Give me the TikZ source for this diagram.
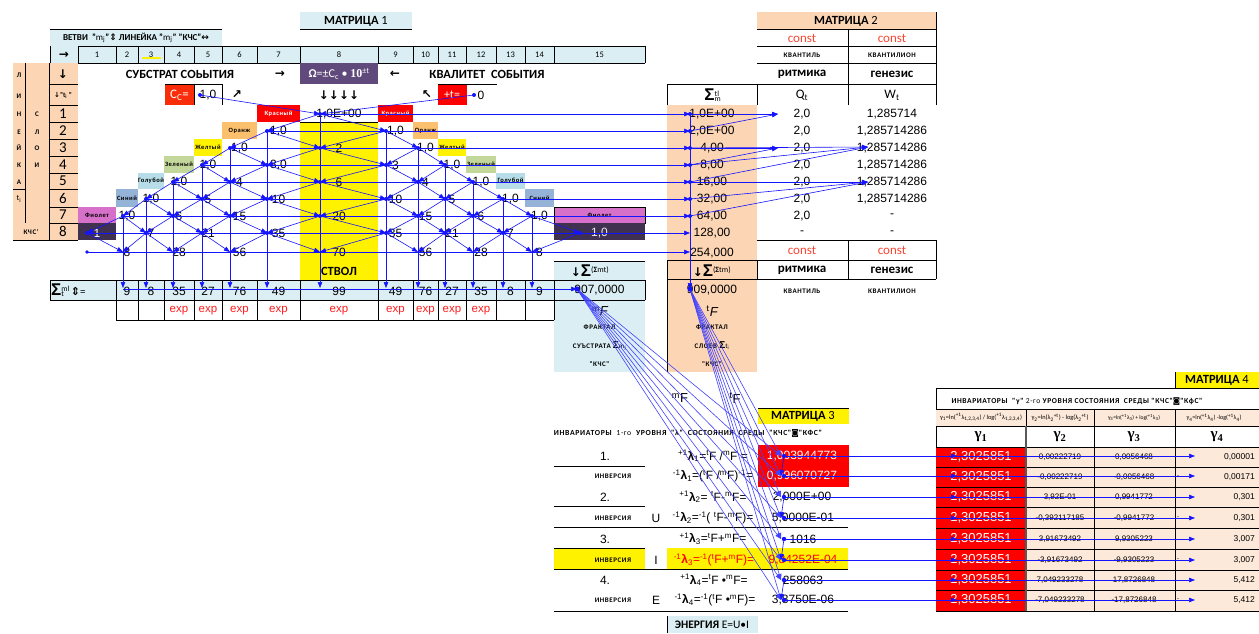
\documentclass[tikz,border=0pt]{standalone}
\usepackage{fontspec}
\usepackage{graphicx}
\setmainfont{Carlito}
\newfontfamily\fArial{Liberation Sans}
\newfontfamily\fTimes{Liberation Serif}
\newfontfamily\fDJ{DejaVu Sans}
\newfontfamily\fLab[LetterSpace=8]{Carlito}
\usetikzlibrary{arrows.meta}
\newcommand\fsz[1]{\fontsize{#1}{#1}\selectfont}
\newcommand\sps[1]{\textsuperscript{#1}}
\newcommand\sbs[1]{\textsubscript{#1}}
\newcommand\lam{\textbf{λ}}
\definecolor{lblue}{RGB}{218,238,243}
\definecolor{peach}{RGB}{252,213,180}
\definecolor{lpeach}{RGB}{253,233,217}
\definecolor{ccred}{RGB}{250,45,10}
\definecolor{omega}{RGB}{96,74,123}
\definecolor{dpurp}{RGB}{64,49,81}
\definecolor{fiol}{RGB}{214,112,200}
\definecolor{sinc}{RGB}{149,179,215}
\definecolor{golc}{RGB}{183,222,232}
\definecolor{zelc}{RGB}{196,215,155}
\definecolor{ornc}{RGB}{250,192,110}
\definecolor{cred}{RGB}{250,70,50}
\definecolor{expred}{RGB}{255,30,30}
\definecolor{trace}{RGB}{20,20,255}
\tikzset{
 conn/.style={draw=trace, line width=0.6pt, -{Triangle[length=6pt,width=4.5pt]}},
 gl/.style={draw=black, line width=0.7pt},
 num/.style={inner sep=0pt, font=\fArial\fsz{12}},
 numS/.style={inner sep=0pt, font=\fArial\fsz{8}},
 tb/.style={inner sep=0pt, font=\fsz{12.5}\bfseries},
 sm/.style={inner sep=0pt, font=\fLab\fsz{7}\bfseries},
 clab/.style={inner sep=0pt, font=\fLab\fsz{6.5}\bfseries},
 arr/.style={inner sep=0pt, font=\fDJ\fsz{12}\bfseries},
 colh/.style={inner sep=0pt, font=\fsz{8.5}},
 reg/.style={inner sep=0pt, font=\fsz{13}},
 dot/.style={fill=trace},
}
\def\colc{{64,97,127,151,179,208,239.5,278.5,339,395.5,425.5,452,481,510.5,539.5,599.5}}
\def\dotx{{0,87,123,146,173,202,230,267,320,386,418,445,473,503,532,580}}
\def\rowy{{0,114,131,148,165,182,199,216,233,252}}
\begin{document}
\begin{tikzpicture}[x=1pt,y=-1pt]
\useasboundingbox (0,0) rectangle (1259,634);
\fill[white] (0,0) rectangle (1259,634);
% ================= MATRIX 1 header
\fill[lblue] (300,12) rectangle (412,29);
\draw[gl] (300,29) -- (412,29);
\node[tb] (m1t) at (356,21) {МАТРИЦА {\mdseries 1}};
\fill[lblue] (50,29) rectangle (222,46);
\draw[gl] (50,29) -- (222,29);
\node[inner sep=0pt] (vetvi) at (136,38) {\resizebox{146pt}{!}{\fsz{8}\bfseries ВЕТВИ \ "{\mdseries m\sbs{j}}"{\fDJ ⇕} ЛИНЕЙКА "{\mdseries m\sbs{j}}" "КЧС"{\fDJ ↔}}};
\fill[lblue] (50,46) rectangle (645,63);
\draw[gl] (78,46) -- (645,46);
\draw[gl] (50,63) -- (645,63);
\foreach \xx in {50,78,116,138,164,194,222,257,300,378,413,438,466,496,525,554,645} \draw[gl] (\xx,46) -- (\xx,63);
\fill[yellow] (142,57.5) rectangle (161,59.5);
\foreach \cc/\xx in {1/97,2/127,3/151,4/179,5/208,6/239.5,7/278.5,8/339,9/395.5,10/425.5,11/452,12/481,13/510.5,14/539.5,15/599.5} \node[colh] (h\cc) at (\xx,55) {\cc};
\node[arr] (harr) at (64,55) {→};
% ================= left block
\fill[peach] (13,63) rectangle (78,240);
\draw[gl] (25,63) -- (25,223);
\draw[gl] (49,63) -- (49,240);
\draw[gl] (13,189) -- (25,189);
\draw[gl] (13,240) -- (78,240);
\foreach \yy in {84,105,122,139,156,173,189,207,223} \draw[gl] (49,\yy) -- (78,\yy);
\foreach \yy/\tx [count=\i] in {75/Л,96/И,114/Н,132/Е,148/Й,165/К,182/А} \node[sm] (lin\i) at (19,\yy) {\tx};
\node[inner sep=0pt,font=\fsz{8}] (lin8) at (19,199) {t\sbs{i}};
\foreach \yy/\tx [count=\i] in {114/С,132/Л,148/О,165/И} \node[sm] (sl\i) at (37,\yy) {\tx};
\node[sm] (kchs) at (31,232) {КЧС'};
\node[arr] (darr) at (63,74) {↓};
\node[inner sep=0pt,font=\fsz{7}\bfseries] (dti) at (63,95) {{\fDJ ↓}"t\sbs{i} "};
\foreach \i/\yy in {1/113.5,2/130.5,3/147.5,4/164.5,5/181,6/198,7/215,8/231.5} \node[inner sep=0pt,font=\fsz{15}] (ln\i) at (63,\yy) {\i};
% ================= top text rows
\node[tb] (subst) at (180,74) {СУБСТРАТ СОЬЫТИЯ};
\node[arr] (ra) at (280,74) {→};
\fill[omega] (300,63) rectangle (378,84);
\node[inner sep=0pt,text=white,font=\fsz{12}] (omg) at (339,74) {{\bfseries Ω}=±C\sbs{c} • {\fTimes\bfseries 10}\sps{±t}};
\node[arr] (la) at (395,74) {←};
\node[tb] (kval) at (487,74) {КВАЛИТЕТ \ СОБЫТИЯ};
\fill[ccred] (165,84) rectangle (194,105);
\node[inner sep=0pt,text=white,font=\fsz{13}] (cc) at (179.5,95) {C\sbs{C}=};
\draw[gl] (165,84) -- (222,84) -- (222,105);
\draw[gl] (194,84) -- (194,105);
\node[num] (ccv) at (208,95) {1,0};
\node[arr] (ne) at (237,95) {↗};
\node[arr] (dddd) at (339,95) {↓↓↓↓};
\node[arr] (nw) at (427,95) {↖};
\fill[red] (438,84) rectangle (467,105);
\draw[gl] (438,84) -- (497,84);
\node[inner sep=0pt,text=white,font=\fsz{12}] (tt) at (452,95) {+t=};
\node[num] (tv) at (481,95) {0};
% ================= colour labels
\fill[red] (257,105) rectangle (300,122); \node[clab,text=white] (kr1) at (278.5,113.5) {Красный};
\fill[red] (378,105) rectangle (413,122); \node[clab,text=white] (kr2) at (395.5,113.5) {Красный};
\fill[ornc] (222,122) rectangle (257,139); \node[clab] (or1) at (239.5,130.5) {Оранж};
\fill[ornc] (413,122) rectangle (438,139); \node[clab] (or2) at (425.5,130.5) {Оранж};
\fill[yellow] (194,139) rectangle (222,156); \node[clab] (ye1) at (208,147.5) {Желтый};
\fill[yellow] (438,139) rectangle (466,156); \node[clab] (ye2) at (452,147.5) {Желтый};
\fill[zelc] (164,156) rectangle (194,173); \node[clab] (ze1) at (179,164.5) {Зеленый};
\fill[zelc] (466,156) rectangle (496,173); \node[clab] (ze2) at (481,164.5) {Зеленый};
\fill[golc] (138,173) rectangle (164,189); \node[clab] (go1) at (151,181) {Голубой};
\fill[golc] (496,173) rectangle (525,189); \node[clab] (go2) at (510.5,181) {Голубой};
\fill[sinc] (116,189) rectangle (138,207); \node[clab] (si1) at (127,198) {Синий};
\fill[sinc] (525,189) rectangle (554,207); \node[clab] (si2) at (539.5,198) {Синий};
\fill[fiol] (78,207) rectangle (116,223); \node[clab] (fi1) at (97,215) {Фиолет};
\fill[fiol] (554,207) rectangle (645,223); \node[clab] (fi2) at (599.5,215) {Фиолет};
\draw[gl] (554,207) rectangle (645,223);
\fill[dpurp] (78,223) rectangle (116,240);
\fill[dpurp] (554,223) rectangle (645,240);
\fill[yellow] (300,122) rectangle (378,280);
\draw[gl] (300,122) -- (378,122);
\node[tb] (stvol) at (339,271) {СТВОЛ};
% ================= Pascal numbers
\foreach \rr/\cc/\vv in {1/8/{1,0E+00},2/7/{1,0},2/9/{1,0},3/6/{1,0},3/8/2,3/10/{1,0},4/5/{1,0},4/7/{3,0},4/9/3,4/11/{1,0},5/4/{1,0},5/6/4,5/8/6,5/10/4,5/12/{1,0},6/3/{1,0},6/5/5,6/7/10,6/9/10,6/11/5,6/13/{1,0},7/2/{1,0},7/4/6,7/6/15,7/8/20,7/10/15,7/12/6,7/14/{1,0},8/3/7,8/5/21,8/7/35,8/9/35,8/11/21,8/13/7,9/2/8,9/4/28,9/6/56,9/8/70,9/10/56,9/12/28,9/14/8}{
 \pgfmathsetmacro\xc{\colc[\cc]}
 \pgfmathsetmacro\xd{\dotx[\cc]}
 \pgfmathsetmacro\yr{\rowy[\rr]}
 \node[num] (t-\rr-\cc) at (\xc,\yr) {\vv};
 \coordinate (p-\rr-\cc) at (\xd,\yr);
}
\node[num,text=white] (t-8-1) at (97,233) {1};
\coordinate (p-8-1) at (87,233);
\node[num,text=white!85!gray] (t-8-15) at (599.5,233) {1,0};
\coordinate (p-8-15) at (580,233);
% ================= sum row
\fill[lblue] (50,280) rectangle (554,300);
\fill[lblue] (554,261) rectangle (645,372);
\draw[gl] (50,280) -- (645,280);
\draw[gl] (50,300) -- (645,300);
\draw[gl] (50,280) -- (50,300);
\draw[gl] (645,280) -- (645,300);
\foreach \xx in {116,138,164,194,222,257,300,378,413,438,466,496,525,554} \draw[gl] (\xx,280) -- (\xx,320);
\draw[gl] (116,320) -- (554,320);
\draw[gl] (554,261) -- (645,261);
\node[inner sep=0pt,anchor=west,font=\fsz{11}] (sigml) at (51,290) {{\fArial\bfseries\fsz{17}Σ}\rlap{\sbs{t}}\sps{ml}\kern1pt{\fDJ\bfseries ⇕}=};
\foreach \cc/\vv in {2/9,3/8,4/35,5/27,6/76,7/49,8/99,9/49,10/76,11/27,12/35,13/8,14/9}{
 \pgfmathsetmacro\xc{\colc[\cc]}
 \node[num] (sum\cc) at (\xc,291) {\vv};
}
\foreach \cc in {4,...,12}{
 \pgfmathsetmacro\xc{\colc[\cc]}
 \node[inner sep=0pt,text=expred,font=\fArial\fsz{11.5}] (exp\cc) at (\xc,311) {exp};
}
\node[num] (mFv) at (599.5,290) {907,0000};
\node[inner sep=0pt,font=\fsz{12}] (sigmt) at (590,271) {{\fDJ\bfseries ↓}{\fArial\bfseries\fsz{17}Σ}\sps{({\bfseries Σ}mt)}};
\node[inner sep=0pt,font=\fsz{13}] (mFl) at (600,311) {\sps{m}{\fArial\itshape F}};
\node[sm] (fr1) at (599.5,327) {ФРАКТАЛ};
\node[sm] (fr2) at (599.5,346) {СУЪСТРАТА {\fArial\fsz{10}Σ}{\mdseries m\sbs{j}}};
\node[sm] (fr3) at (599.5,364) {"КЧС"};
% ================= MATRIX 2 and sigma column
\fill[peach] (757,12) rectangle (936,29);
\node[tb] (m2t) at (846,21) {МАТРИЦА {\mdseries 2}};
\draw[gl] (757,29) -- (936,29);
\draw[gl] (757,46) -- (936,46);
\draw[gl] (757,63) -- (936,63);
\draw[gl] (667,84) -- (936,84);
\draw[gl] (848,29) -- (848,105);
\draw[gl] (936,12) -- (936,105);
\draw[gl] (757,84) -- (757,105);
\draw[gl] (667,84) -- (667,105);
\node[inner sep=0pt,text=cred,font=\fsz{13}] (c1) at (802,38) {const};
\node[inner sep=0pt,text=cred,font=\fsz{13}] (c2) at (892,38) {const};
\node[sm] (kv1) at (802,55) {КВАНТИЛЬ};
\node[sm] (kv2) at (892,55) {КВАНТИЛИОН};
\node[inner sep=0pt,font=\fsz{13}\bfseries] (rit1) at (802,74) {ритмика};
\node[inner sep=0pt,font=\fsz{13}\bfseries] (gen1) at (892,74) {генезис};
\node[inner sep=0pt,font=\fsz{11}] (sigtl) at (712,95) {{\fArial\bfseries\fsz{17}Σ}\rlap{\sbs{m}}\sps{tl}};
\node[reg] (qt) at (802,95) {Q\sbs{t}};
\node[reg] (wt) at (892,95) {W\sbs{t}};
\fill[peach] (667,105) rectangle (757,372);
\foreach \yy/\vv [count=\i] in {114/{1,0E+00},131/{2,0E+00},148/{4,00},165/{8,00},182/{16,00},199/{32,00},216/{64,00},233/{128,00},253/{254,000}} \node[num] (sv\i) at (712,\yy) {\vv};
\foreach \yy [count=\i] in {114,131,148,165,182,199,216} \node[num] (q\i) at (802,\yy) {2,0};
\node[num] (q8) at (802,233) {-};
\node[num] (w1) at (892,114) {1,285714};
\foreach \yy [count=\i from 2] in {131,148,165,182,199} \node[num] (w\i) at (892,\yy) {1,285714286};
\node[num] (w7) at (892,216) {-};
\node[num] (w8) at (892,233) {-};
\draw[gl] (757,240) -- (936,240);
\draw[gl] (848,240) -- (848,279);
\draw[gl] (936,240) -- (936,279);
\draw[gl] (667,260) -- (936,260);
\draw[gl] (667,279) -- (936,279);
\draw[gl] (667,260) -- (667,372);
\draw[gl] (757,260) -- (757,279);
\node[inner sep=0pt,text=cred,font=\fsz{13}] (c3) at (802,250) {const};
\node[inner sep=0pt,text=cred,font=\fsz{13}] (c4) at (892,250) {const};
\node[inner sep=0pt,font=\fsz{12}] (sigtm) at (712,271) {{\fDJ\bfseries ↓}{\fArial\bfseries\fsz{17}Σ}\sps{({\bfseries Σ}tm)}};
\node[inner sep=0pt,font=\fsz{13}\bfseries] (rit2) at (802,270) {ритмика};
\node[inner sep=0pt,font=\fsz{13}\bfseries] (gen2) at (892,270) {генезис};
\node[num] (tFv) at (712,290) {909,0000};
\node[sm] (kv3) at (802,291) {КВАНТИЛЬ};
\node[sm] (kv4) at (892,291) {КВАНТИЛИОН};
\node[inner sep=0pt,font=\fsz{13}] (tFl) at (712,311) {\sps{t}{\fArial\itshape F}};
\node[sm] (fr4) at (712,327) {ФРАКТАЛ};
\node[sm] (fr5) at (712,346) {СЛОЕВ {\fArial\fsz{10}Σ}{\mdseries t\sbs{i}}};
\node[sm] (fr6) at (712,364) {"КЧС"};
% ================= MATRIX 3
\node[inner sep=0pt,font=\fArial\fsz{13}] (mFl2) at (680,398) {\sps{m}F};
\node[inner sep=0pt,font=\fArial\fsz{13}] (tFl2) at (735,398) {\sps{t}F};
\fill[yellow] (758,408) rectangle (849,424);
\draw[gl] (758,408) -- (849,408);
\node[tb] (m3t) at (803,416.5) {МАТРИЦА {\mdseries 3}};
\node[inner sep=0pt] (inv1h) at (688,433) {\resizebox{268pt}{!}{\fLab\fsz{7}\bfseries ИНВАРИАТОРЫ \ {\mdseries 1-го} \ УРОВНЯ \ "λ" \ СОСТОЯНИЯ \ СРЕДЫ \ "КЧС"{\fDJ ◙}"КФС"}};
\fill[red] (758,445) rectangle (849,487);
\fill[yellow] (554,548) rectangle (645,569);
\fill[yellow] (667,548) rectangle (848,569);
\draw[gl] (554,466) -- (645,466);
\draw[gl] (554,506) -- (645,506);
\draw[gl] (554,527) -- (848,527);
\draw[gl] (554,548) -- (645,548);
\draw[gl] (554,569) -- (848,569);
\draw[gl] (554,611) -- (848,611);
\foreach \yy/\tx [count=\i] in {456/1.,497/2.,539/3.,580/4.} \node[num] (nr\i) at (605,\yy) {\tx};
\foreach \yy [count=\i] in {476,518,560,600} \node[sm] (inv\i) at (613,\yy) {ИНВЕРСИЯ};
\node[num] (U) at (656,518) {U};
\node[num] (I) at (656,560) {I};
\node[num] (E) at (656,600) {E};
\node[num] (f1) at (713,456) {\sps{+1}\lam\sbs{1}=\sps{t}F /\sps{m}F =};
\node[num] (f2) at (713,476) {\sps{-1}\lam\sbs{1}=(\sps{t}F /\sps{m}F)\sps{-1}=};
\node[num] (f3) at (713,497) {\sps{+1}\lam\sbs{2}= \sps{t}F-\sps{m}F=};
\node[num] (f4) at (713,518) {\sps{-1}\lam\sbs{2}=\sps{-1}( \sps{t}F-\sps{m}F)=};
\node[num] (f5) at (713,539) {\sps{+1}\lam\sbs{3}=\sps{t}F+\sps{m}F=};
\node[num,text=red] (f6) at (714,560) {\sps{-1}\lam\sbs{3}=\sps{-1}(\sps{t}F+\sps{m}F)=};
\node[num] (f7) at (714,580) {\sps{+1}\lam\sbs{4}=\sps{t}F •\sps{m}F=};
\node[num] (f8) at (715,600) {\sps{-1}\lam\sbs{4}=\sps{-1}(\sps{t}F •\sps{m}F)=};
\node[num,text=white] (v1) at (802,456) {1,003944773};
\node[num,text=white] (v2) at (802,476) {0,996070727};
\node[num] (v3) at (802,497) {2,000E+00};
\node[num] (v4) at (803,518) {5,0000E-01};
\node[num] (v5) at (803,539) {1016};
\node[num,text=red] (v6) at (803,560) {9,84252E-04};
\node[num] (v7) at (803,580) {258063};
\node[num] (v8) at (803,600) {3,8750E-06};
\fill[lblue] (667,616) rectangle (758,633);
\draw[gl] (667,616) -- (667,633);
\node[inner sep=0pt,font=\fsz{11.5}] (energ) at (712,624.5) {\textbf{ЭНЕРГИЯ} E=U•I};
% ================= MATRIX 4
\fill[yellow] (1175,372) rectangle (1259,388);
\draw[gl] (1175,372) -- (1175,388);
\node[tb] (m4t) at (1217,380) {МАТРИЦА {\mdseries 4}};
\draw[gl] (936,388) -- (1259,388);
\draw[gl] (936,388) -- (936,611);
\node[inner sep=0pt] (inv2h) at (1077,402) {\resizebox{251pt}{!}{\fLab\fsz{7}\bfseries ИНВАРИАТОРЫ \ "γ" {\mdseries 2-го} УРОВНЯ СОСТОЯНИЯ \ СРЕДЫ "КЧС"{\fDJ ◙}"КфС"}};
\fill[lpeach] (936,409) rectangle (1259,426);
\draw[gl] (936,409) -- (1259,409);
\draw[gl] (936,426) -- (1259,426);
\foreach \xx in {1026,1094,1175} \draw[gl] (\xx,409) -- (\xx,426);
\node[inner sep=0pt] (g1f) at (981,417.5) {\resizebox{82pt}{!}{\fsz{6}γ\sbs{1}=ln(\sps{+1}λ\sbs{1,2,3,4}) / log(\sps{+1}λ\sbs{1,2,3,4})}};
\node[inner sep=0pt] (g2f) at (1060,417.5) {\resizebox{57pt}{!}{\fsz{6}γ\sbs{2}=ln(λ\sbs{2}\sps{+t}) - log(λ\sbs{2}\sps{+t})}};
\node[inner sep=0pt] (g3f) at (1134,417.5) {\resizebox{52pt}{!}{\fsz{6}γ\sbs{3}=ln(\sps{+1}λ\sbs{3}) + log(\sps{+1}λ\sbs{3})}};
\node[inner sep=0pt] (g4f) at (1214,417.5) {\resizebox{55pt}{!}{\fsz{6}γ\sbs{4}=ln(\sps{+1}λ\sbs{4}) -log(\sps{+1}λ\sbs{4})}};
\foreach \xx/\tx [count=\i] in {981/1,1060/2,1134/3,1217/4} \node[inner sep=0pt,font=\fTimes\fsz{15}\bfseries] (gh\i) at (\xx,437) {γ\sbs{\tx}};
\fill[red] (936,447) rectangle (1026,611);
\fill[lpeach] (1026,447) rectangle (1259,611);
\foreach \yy in {447,467,487,507,528,549,570,590,611} \draw[gl] (936,\yy) -- (1259,\yy);
\draw[draw=gray!70!black,line width=1.2pt] (1026,426) -- (1026,611);
\foreach \xx in {1094,1175} \draw[gl] (\xx,426) -- (\xx,611);
\foreach \yy/\a/\b/\c [count=\i] in {457/{0,00222719}/{0,0056468}/{0,00001},477/{-0,00222719}/{-0,0056468}/{0,00171},497/{3,92E-01}/{0,9941772}/{0,301},518/{-0,392117185}/{-0,9941772}/{0,301},539/{3,91673492}/{9,9305223}/{3,007},560/{-3,91673492}/{-9,9305223}/{3,007},580/{7,049233278}/{17,8726848}/{5,412},600/{-7,049233278}/{-17,8726848}/{5,412}}{
 \node[inner sep=0pt,text=white,font=\fArial\fsz{13}] (ga\i) at (981,\yy) {2,3025851};
 \node[numS] (gb\i) at (1060,\yy) {\a};
 \node[numS] (gc\i) at (1134,\yy) {\b};
 \node[numS,anchor=east,font=\fArial\fsz{8.5}] (gd\i) at (1255,\yy) {\c};
}
\foreach \yy [count=\i] in {477,518,560,600} \node[inner sep=0pt,font=\fArial\fsz{6}] (dash\i) at (1178,\yy) {-};
% ================= CONNECTORS
\coordinate (ccdot) at (200,95);
\coordinate (tdot) at (474,95);
\draw[conn] (ccdot) -- (p-1-8);
\draw[conn] (tdot) -- (p-1-8);
\fill[trace] (ccdot) circle (2pt);
\fill[trace] (tdot) circle (2pt);
% Pascal parents
\foreach \rr/\cc in {2/7,2/9,3/6,3/8,3/10,4/5,4/7,4/9,4/11,5/4,5/6,5/8,5/10,5/12,6/3,6/5,6/7,6/9,6/11,6/13,7/2,7/4,7/6,7/8,7/10,7/12,7/14,8/1,8/3,8/5,8/7,8/9,8/11,8/13,8/15,9/2,9/4,9/6,9/8,9/10,9/12,9/14}{
 \pgfmathtruncatemacro\pR{\rr-1}
 \pgfmathtruncatemacro\cL{\cc-1}
 \pgfmathtruncatemacro\cR{\cc+1}
 \pgfmathtruncatemacro\okl{abs(\cL-8)<(\rr-1.5)}
 \pgfmathtruncatemacro\okr{abs(\cR-8)<(\rr-1.5)}
 \ifnum\okl=1 \draw[conn] (p-\pR-\cL) -- (p-\rr-\cc); \fi
 \ifnum\okr=1 \draw[conn] (p-\pR-\cR) -- (p-\rr-\cc); \fi
}
% column sums
\foreach \cc in {2,...,14}{
 \pgfmathtruncatemacro\tR{1+abs(\cc-8)}
 \pgfmathsetmacro\xd{\dotx[\cc]}
 \coordinate (s-\cc) at (\xd,288);
 \draw[conn] (p-\tR-\cc) -- (s-\cc);
}
% row sums
\foreach \rr in {1,...,8}{
 \pgfmathtruncatemacro\lc{9-\rr}
 \pgfmathsetmacro\yr{\rowy[\rr]}
 \coordinate (S-\rr) at (690,\yr);
 \draw[conn] (p-\rr-\lc) -- (S-\rr);
}
\coordinate (S-9) at (690,252);
\coordinate (r9s) at (87,252);
\draw[conn] (r9s) -- (S-9);
\fill[trace] (r9s) circle (1.8pt);
\coordinate (tF) at (690,289);
\coordinate (mF) at (577,289);
\coordinate (sumS) at (123,289);
\draw[conn] (S-1) -- (tF);
\draw[conn] (sumS) -- (mF);
\foreach \rr/\cc in {1/8,2/7,2/9,3/6,3/8,3/10,4/5,4/7,4/9,4/11,5/4,5/6,5/8,5/10,5/12,6/3,6/5,6/7,6/9,6/11,6/13,7/2,7/4,7/6,7/8,7/10,7/12,7/14,8/1,8/3,8/5,8/7,8/9,8/11,8/13,8/15}
 \fill[trace] (p-\rr-\cc) circle (2pt);
% matrix 2 references
\coordinate (Q1) at (778,114);
\coordinate (Q3) at (778,148);
\coordinate (W3) at (868,147);
\coordinate (W5) at (868,182);
\draw[conn] (S-1) -- (Q1);
\draw[conn] (S-2) -- (Q1);
\draw[conn] (S-3) -- (Q3);
\draw[conn] (S-4) -- (Q3);
\draw[conn] (S-3) -- (W3);
\draw[conn] (S-4) -- (W3);
\draw[conn] (S-5) -- (W3);
\draw[conn] (S-5) -- (W5);
\draw[conn] (S-6) -- (W5);
\draw[conn] (S-7) -- (W5);
\foreach \rr in {1,...,7} \fill[trace] (S-\rr) circle (2pt);
% matrix 3 references
\foreach \i/\yy in {1/456,2/476,3/497,4/518,5/539,6/560,7/580,8/600}{
 \coordinate (M-\i) at (781,\yy);
 \coordinate (D-\i) at (784,\yy);
 \coordinate (G1-\i) at (957,\yy);
 \coordinate (G4-\i) at (1195,\yy);
 \draw[conn,draw=trace!80!white] (mF) -- (M-\i);
 \draw[conn,draw=trace!80!white] (tF) -- (M-\i);
 \draw[conn] (D-\i) -- (G4-\i);
 \draw[conn] (D-\i) -- (G1-\i);
}
\foreach \a/\b in {1/2,3/4,5/6,7/8} \draw[conn] (D-\a) -- (M-\b);
\foreach \i in {1,...,8} \fill[trace] (D-\i) circle (2.2pt);
\fill[trace] (mF) circle (2.6pt);
\fill[trace] (tF) circle (2.6pt);
\end{tikzpicture}
\end{document}
